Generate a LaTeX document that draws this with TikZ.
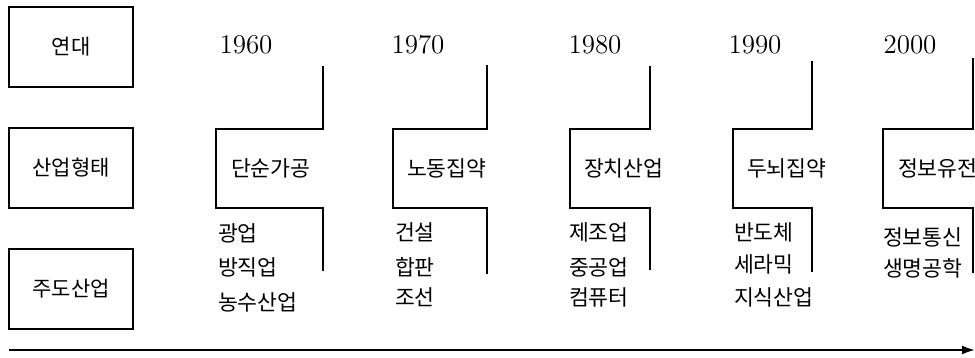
\documentclass[tikz,border=0pt]{standalone}
\usepackage{fontspec}
\newfontfamily\kr{Noto Sans CJK KR}
\usetikzlibrary{calc, positioning, arrows.meta}

\begin{document}
\begin{tikzpicture}[>={Latex[length=6.5pt, width=4.5pt]}, x=0.5pt, y=-0.5pt, line width=1pt,
  rowbox/.style={draw, minimum width=62pt, minimum height=40pt, font=\kr\fontsize{10.5}{12}\selectfont},
  kor/.style={font=\kr\fontsize{10.8}{12}\selectfont, inner sep=0pt, anchor=west},
  yr/.style={font=\fontsize{13.5}{15}\selectfont}]
  \useasboundingbox (0,0) rectangle (975,358);
  % left column
  \node (era) at (71,47) [rowbox] {연대};
  \node (form) at (71,168) [rowbox] {산업형태};
  \node (lead) at (71,289) [rowbox] {주도산업};
  % years
  \node (y60) at (246,45) [yr] {1960};
  \node (y70) at (418,45) [yr] {1970};
  \node (y80) at (595,45) [yr] {1980};
  \node (y90) at (755,45) [yr] {1990};
  \node (y00) at (910,45) [yr] {2000};
  % brackets
  \draw (323,66) -- (323,129) -- (216,129) -- (216,208) -- (323,208) -- (323,271);
  \draw (487,65) -- (487,129) -- (393,129) -- (393,208) -- (487,208) -- (487,274);
  \draw (650,66) -- (650,129) -- (570,129) -- (570,208) -- (650,208) -- (650,270);
  \draw (812,61) -- (812,129) -- (733,129) -- (733,208) -- (812,208) -- (812,272);
  \draw (973,58) -- (973,129) -- (883,129) -- (883,208) -- (973,208) -- (973,273);
  % stages
  \node (s60) at (230,168) [kor] {단순가공};
  \node (s70) at (406,168) [kor] {노동집약};
  \node (s80) at (583,168) [kor] {장치산업};
  \node (s90) at (746,168) [kor] {두뇌집약};
  \node (s00) at (897,168) [kor] {정보유전};
  % leading industries
  \node (i60a) at (217,233) [kor] {광업};
  \node (i60b) at (217,267) [kor] {방직업};
  \node (i60c) at (217,302) [kor] {농수산업};
  \node (i70a) at (394,232) [kor] {건설};
  \node (i70b) at (394,267) [kor] {합판};
  \node (i70c) at (394,297) [kor] {조선};
  \node (i80a) at (568,232) [kor] {제조업};
  \node (i80b) at (568,267) [kor] {중공업};
  \node (i80c) at (568,297) [kor] {컴퓨터};
  \node (i90a) at (733,232) [kor] {반도체};
  \node (i90b) at (733,264) [kor] {세라믹};
  \node (i90c) at (733,297) [kor] {지식산업};
  \node (i00a) at (882,237) [kor] {정보통신};
  \node (i00b) at (882,268) [kor] {생명공학};
  % time axis
  \coordinate (tl) at (9,350);
  \coordinate (tr) at (975,350);
  \draw [->] (tl) -- (tr);
\end{tikzpicture}
\end{document}
